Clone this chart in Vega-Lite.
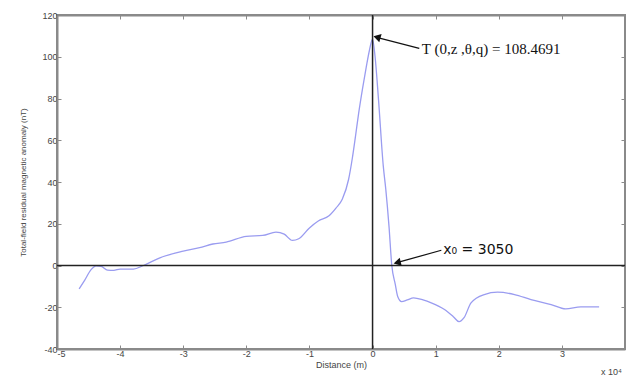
{
  "$schema": "https://vega.github.io/schema/vega-lite/v6.json",
  "width": 568,
  "height": 334,
  "autosize": "none",
  "padding": {"left": 57, "top": 15, "right": 1, "bottom": 27},
  "background": "white",
  "config": {
    "view": {"stroke": "#8a8a8a", "strokeWidth": 2},
    "axis": {
      "domainColor": "#8a8a8a", "domainWidth": 2,
      "tickColor": "#8a8a8a", "tickSize": -4, "grid": false,
      "labelFont": "Liberation Sans", "labelFontSize": 9, "labelColor": "#444",
      "titleFont": "Liberation Sans", "titleFontWeight": "normal", "titleColor": "#444"
    }
  },
  "resolve": {"axis": {"x": "independent", "y": "independent"}},
  "datasets": {
    "curve": [
      {"x": -4.65, "y": -11.2}, {"x": -4.56, "y": -7.0}, {"x": -4.46, "y": -2.0}, {"x": -4.38, "y": -0.2},
      {"x": -4.30, "y": -0.4}, {"x": -4.2, "y": -2.2}, {"x": -4.1, "y": -2.3}, {"x": -4.0, "y": -1.7}, {"x": -3.79, "y": -1.7},
      {"x": -3.63, "y": 0}, {"x": -3.37, "y": 3.7}, {"x": -3.0, "y": 6.9}, {"x": -2.74, "y": 8.6},
      {"x": -2.53, "y": 10.3}, {"x": -2.32, "y": 11.2}, {"x": -2.0, "y": 14.0}, {"x": -1.74, "y": 14.4},
      {"x": -1.53, "y": 16.0}, {"x": -1.40, "y": 15.0}, {"x": -1.27, "y": 12.0}, {"x": -1.17, "y": 12.8},
      {"x": -1.0, "y": 18.0}, {"x": -0.86, "y": 21.3}, {"x": -0.69, "y": 23.8}, {"x": -0.58, "y": 27.5},
      {"x": -0.48, "y": 31.7}, {"x": -0.38, "y": 41.2}, {"x": -0.32, "y": 51.5}, {"x": -0.27, "y": 62.0}, {"x": -0.22, "y": 73.0},
      {"x": -0.16, "y": 84.5}, {"x": -0.10, "y": 95.0}, {"x": -0.05, "y": 103.0}, {"x": 0.0, "y": 108.47}, {"x": 0.04, "y": 100.0},
      {"x": 0.094, "y": 79.6}, {"x": 0.17, "y": 47.6}, {"x": 0.21, "y": 36.4}, {"x": 0.26, "y": 19.0},
      {"x": 0.305, "y": 0}, {"x": 0.36, "y": -9.0}, {"x": 0.40, "y": -15.0}, {"x": 0.46, "y": -17.3},
      {"x": 0.55, "y": -16.5}, {"x": 0.65, "y": -15.5}, {"x": 0.80, "y": -16.5}, {"x": 0.93, "y": -17.9},
      {"x": 1.14, "y": -21.1}, {"x": 1.28, "y": -24.5}, {"x": 1.37, "y": -26.9}, {"x": 1.45, "y": -25.0},
      {"x": 1.56, "y": -17.9}, {"x": 1.77, "y": -13.9}, {"x": 1.98, "y": -12.8}, {"x": 2.25, "y": -13.9},
      {"x": 2.51, "y": -16.3}, {"x": 2.83, "y": -18.7}, {"x": 3.06, "y": -20.8}, {"x": 3.30, "y": -19.8},
      {"x": 3.59, "y": -19.8}
    ],
    "arrows": [
      {"id": "peak", "x": 0.74, "y": 104.0, "x2": 0.08, "y2": 109.2},
      {"id": "root", "x": 1.09, "y": 7.3, "x2": 0.40, "y2": 1.5}
    ],
    "heads": [
      {"id": "peak", "x": 0.07, "y": 109.4},
      {"id": "root", "x": 0.39, "y": 1.4}
    ],
    "labels": [
      {"id": "peak", "x": 0.78, "y": 103.8, "text": "T (0,z ,θ,q) = 108.4691"},
      {"id": "root", "x": 1.12, "y": 7.4, "text": "x₀ = 3050"}
    ],
    "hline": [{"y": 0}],
    "vline": [{"x": 0}],
    "exp": [{"x": 3.95, "y": -40, "text": "x 10⁴"}]
  },
  "layer": [
    {
      "data": {"name": "curve"},
      "mark": {"type": "line", "color": "#9a9cf0", "strokeWidth": 1.3, "interpolate": "monotone"},
      "encoding": {
        "x": {"field": "x", "type": "quantitative", "scale": {"domain": [-5, 4], "nice": false},
          "axis": {"title": "Distance (m)", "titleFontSize": 9, "titlePadding": 2, "values": [-5, -4, -3, -2, -1, 0, 1, 2, 3], "labelPadding": 4, "labelExpr": "'' + datum.value"}},
        "y": {"field": "y", "type": "quantitative", "scale": {"domain": [-40, 120], "nice": false},
          "axis": {"title": "Total-field residual magnetic anomaly (nT)", "titleFontSize": 8, "titlePadding": 14, "values": [-40, -20, 0, 20, 40, 60, 80, 100, 120], "labelPadding": 4, "labelExpr": "'' + datum.value"}}
      }
    },
    {
      "data": {"name": "hline"},
      "mark": {"type": "rule", "color": "#222", "strokeWidth": 1.3},
      "encoding": {
        "y": {"field": "y", "type": "quantitative", "axis": {"orient": "right", "title": null, "labels": false, "values": [-40, -20, 0, 20, 40, 60, 80, 100, 120]}}
      }
    },
    {
      "data": {"name": "vline"},
      "mark": {"type": "rule", "color": "#222", "strokeWidth": 1.5},
      "encoding": {
        "x": {"field": "x", "type": "quantitative", "axis": {"orient": "top", "title": null, "labels": false, "values": [-5, -4, -3, -2, -1, 0, 1, 2, 3]}}
      }
    },
    {
      "data": {"name": "arrows"},
      "mark": {"type": "rule", "color": "#111", "strokeWidth": 1.2},
      "encoding": {
        "x": {"field": "x", "type": "quantitative", "axis": null}, "y": {"field": "y", "type": "quantitative", "axis": null},
        "x2": {"field": "x2"}, "y2": {"field": "y2"}
      }
    },
    {
      "data": {"name": "heads"},
      "transform": [{"filter": "datum.id == 'peak'"}],
      "mark": {"type": "point", "shape": "triangle-left", "filled": true, "color": "#111", "size": 70, "angle": 16, "opacity": 1},
      "encoding": {"x": {"field": "x", "type": "quantitative", "axis": null}, "y": {"field": "y", "type": "quantitative", "axis": null}}
    },
    {
      "data": {"name": "heads"},
      "transform": [{"filter": "datum.id == 'root'"}],
      "mark": {"type": "point", "shape": "triangle-left", "filled": true, "color": "#111", "size": 70, "angle": -14, "opacity": 1},
      "encoding": {"x": {"field": "x", "type": "quantitative", "axis": null}, "y": {"field": "y", "type": "quantitative", "axis": null}}
    },
    {
      "data": {"name": "labels"},
      "transform": [{"filter": "datum.id == 'peak'"}],
      "mark": {"type": "text", "align": "left", "baseline": "middle", "font": "Liberation Serif", "fontSize": 15, "color": "#111"},
      "encoding": {"x": {"field": "x", "type": "quantitative", "axis": null}, "y": {"field": "y", "type": "quantitative", "axis": null}, "text": {"field": "text"}}
    },
    {
      "data": {"name": "labels"},
      "transform": [{"filter": "datum.id == 'root'"}],
      "mark": {"type": "text", "align": "left", "baseline": "middle", "font": "DejaVu Sans", "fontSize": 14, "color": "#111"},
      "encoding": {"x": {"field": "x", "type": "quantitative", "axis": null}, "y": {"field": "y", "type": "quantitative", "axis": null}, "text": {"field": "text"}}
    },
    {
      "data": {"name": "exp"},
      "mark": {"type": "text", "align": "right", "baseline": "top", "font": "Liberation Sans", "fontSize": 9, "color": "#444", "dy": 19},
      "encoding": {"x": {"field": "x", "type": "quantitative", "axis": null}, "y": {"field": "y", "type": "quantitative", "axis": null}, "text": {"field": "text"}}
    }
  ]
}
